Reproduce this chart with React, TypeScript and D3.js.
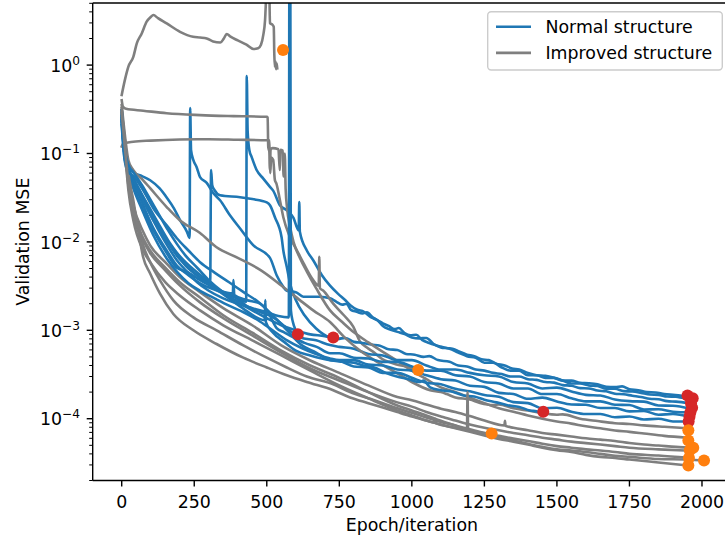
import React from "react";
import * as d3 from "d3";

type Pt = [number, number];

// ---- Normal structure runs (blue) : [epoch, validation MSE]
const normal1: Pt[] = [[0,0.29],[10,0.109],[25,0.072],[40,0.0615],[70,0.0555],[98,0.0498],[130,0.0405],[155,0.0318],[180,0.024],[201,0.0176],[225,0.013],[234,0.0111],[236,0.326],[239,0.109],[247,0.084],[258,0.0703],[270,0.054],[293,0.0465],[316,0.0355],[339,0.0296],[373,0.02],[408,0.0142],[453,0.0092],[511,0.0066],[534,0.0042],[557,0.0031],[569,0.0028],[600,0.0027],[626,0.0024],[683,0.0024],[718,0.0023],[740,0.0021],[760,0.00195],[775,0.002],[790,0.0017],[810,0.00162],[830,0.00155],[845,0.0016],[865,0.0014],[885,0.00128],[900,0.0012],[920,0.00112],[940,0.00103],[955,0.00106],[975,0.00093],[995,0.00088],[1015,0.00089],[1035,0.00078],[1060,0.00072],[1075,0.00069],[1095,0.00066],[1120,0.00063],[1140,0.00062],[1160,0.00058],[1190,0.00053],[1215,0.00051],[1240,0.00047],[1265,0.00046],[1290,0.00042],[1320,0.0004],[1345,0.00037],[1370,0.00036],[1400,0.00033],[1430,0.00031],[1460,0.000305],[1490,0.00029],[1520,0.00027],[1550,0.00027],[1580,0.000255],[1610,0.000252],[1640,0.000245],[1670,0.00023],[1700,0.000228],[1725,0.000232],[1750,0.000215],[1780,0.00021],[1810,0.0002],[1840,0.000198],[1870,0.00019],[1900,0.000186],[1925,0.000183],[1945,0.000178]];
const normal2: Pt[] = [[0,0.25],[10,0.096],[25,0.065],[40,0.052],[70,0.034],[100,0.023],[130,0.0154],[160,0.0104],[190,0.0075],[220,0.0054],[260,0.0042],[300,0.0034],[350,0.0027],[400,0.0023],[429,0.0021],[431,0.75],[434,0.18],[440,0.109],[448,0.091],[465,0.065],[488,0.052],[511,0.042],[522,0.038],[545,0.026],[569,0.0228],[592,0.0187],[610,0.0135],[612,0.0282],[614,0.013],[638,0.008],[660,0.0062],[690,0.0042],[718,0.0032],[745,0.0026],[770,0.0022],[790,0.0019],[810,0.00172],[835,0.00162],[860,0.0014],[880,0.00131],[900,0.00112],[925,0.00102],[950,0.00096],[975,0.00091],[1000,0.00083],[1025,0.00081],[1050,0.00082],[1075,0.0007],[1100,0.00064],[1130,0.00062],[1160,0.00056],[1190,0.00051],[1220,0.00049],[1250,0.00043],[1280,0.00043],[1310,0.00038],[1340,0.00035],[1370,0.00035],[1400,0.00031],[1430,0.00031],[1460,0.00029],[1490,0.00029],[1520,0.00027],[1550,0.00025],[1580,0.00025],[1610,0.000238],[1640,0.000234],[1670,0.000218],[1700,0.000218],[1730,0.000205],[1760,0.000203],[1790,0.000196],[1820,0.000188],[1850,0.000186],[1880,0.000178],[1910,0.000177],[1935,0.000172],[1960,0.00017]];
const normal3: Pt[] = [[0,0.27],[10,0.104],[25,0.065],[40,0.052],[70,0.034],[100,0.0217],[130,0.0143],[160,0.0098],[190,0.0075],[220,0.0059],[250,0.0048],[280,0.004],[305,0.0035],[308,0.065],[312,0.0438],[320,0.0384],[339,0.0337],[408,0.032],[450,0.0305],[500,0.028],[511,0.026],[528,0.019],[551,0.0113],[557,0.008],[569,0.0052],[580,0.0034],[600,0.0022],[630,0.00148],[670,0.00105],[718,0.00083],[745,0.0008],[770,0.00082],[800,0.00074],[830,0.00072],[860,0.00069],[890,0.00067],[920,0.00061],[950,0.0006],[980,0.00054],[1010,0.00053],[1040,0.0005],[1060,0.00051],[1090,0.00046],[1130,0.00044],[1160,0.0004],[1190,0.00039],[1220,0.00036],[1250,0.00035],[1280,0.00033],[1310,0.00032],[1340,0.0003],[1370,0.0003],[1400,0.00028],[1430,0.000275],[1460,0.00026],[1490,0.000256],[1520,0.00024],[1550,0.000236],[1580,0.000222],[1610,0.00022],[1640,0.000208],[1670,0.000204],[1700,0.000192],[1730,0.000189],[1760,0.000182],[1790,0.000176],[1820,0.000168],[1850,0.000166],[1880,0.000158],[1910,0.000156],[1955,0.00015]];
const normal4: Pt[] = [[0,0.25],[10,0.1],[25,0.065],[40,0.0498],[74,0.026],[109,0.0143],[155,0.008],[190,0.0054],[230,0.0042],[270,0.0034],[330,0.0028],[385,0.0024],[442,0.0018],[480,0.0016],[522,0.0014],[569,0.00106],[615,0.00083],[670,0.00077],[718,0.00068],[750,0.00065],[800,0.00062],[850,0.00054],[900,0.00052],[950,0.00046],[1000,0.00046],[1050,0.0004],[1100,0.00036],[1150,0.00036],[1200,0.00033],[1250,0.00031],[1300,0.0003],[1350,0.00026],[1400,0.00025],[1450,0.00022],[1500,0.000225],[1550,0.000203],[1600,0.000186],[1650,0.000183],[1700,0.000165],[1750,0.000158],[1800,0.000156],[1850,0.000141],[1900,0.00014],[1958,0.00013]];
const normal5: Pt[] = [[0,0.226],[10,0.088],[25,0.061],[40,0.0438],[74,0.0228],[109,0.0135],[155,0.0075],[190,0.0051],[224,0.0046],[270,0.0037],[304,0.0032],[340,0.0028],[383,0.0026],[385,0.0037],[388,0.0025],[430,0.0022],[477,0.002],[500,0.0017],[534,0.00106],[560,0.00095],[592,0.00083],[630,0.00072],[672,0.00065],[718,0.00055],[750,0.00055],[800,0.00049],[850,0.00048],[900,0.00044],[950,0.00044],[1000,0.00039],[1050,0.00035],[1100,0.00035],[1150,0.00031],[1200,0.0003],[1250,0.00026],[1300,0.00025],[1350,0.00022],[1400,0.00022],[1450,0.00019],[1500,0.00019],[1550,0.00017],[1600,0.000157],[1650,0.000157],[1700,0.000144],[1750,0.000143],[1800,0.000127],[1850,0.000128],[1900,0.00012],[1962,0.000118]];
const normal6: Pt[] = [[0,0.209],[10,0.084],[25,0.0568],[40,0.0405],[74,0.0217],[109,0.0119],[155,0.0065],[190,0.0046],[230,0.0034],[270,0.0028],[320,0.0023],[370,0.0019],[420,0.0016],[470,0.0013],[520,0.001],[570,0.00077],[620,0.00063],[670,0.00054],[718,0.00048],[750,0.00046],[800,0.00046],[850,0.00041],[900,0.0004],[950,0.00036],[1000,0.00035],[1050,0.00031],[1100,0.00028],[1150,0.00027],[1200,0.000236],[1250,0.000229],[1300,0.000196],[1350,0.00019],[1400,0.000168],[1450,0.000173],[1500,0.000157],[1550,0.000145],[1600,0.000144],[1650,0.000132],[1700,0.000132],[1750,0.000121],[1800,0.000122],[1850,0.000111],[1900,0.000113],[1955,0.000105]];
const normal7: Pt[] = [[0,0.285],[10,0.109],[25,0.065],[40,0.047],[74,0.0296],[109,0.0176],[155,0.0104],[190,0.007],[230,0.0051],[270,0.0039],[320,0.003],[370,0.0023],[420,0.00175],[470,0.00137],[493,0.0013],[495,0.0022],[497,0.00124],[520,0.00095],[560,0.00074],[600,0.00059],[650,0.00052],[718,0.00046],[750,0.00045],[800,0.00039],[850,0.00038],[900,0.00033],[950,0.00033],[1000,0.00029],[1050,0.000255],[1100,0.000245],[1150,0.000218],[1200,0.000204],[1250,0.000185],[1300,0.000177],[1350,0.000154],[1400,0.00015],[1450,0.000131],[1500,0.000133],[1550,0.00012],[1600,0.000113],[1650,0.000113],[1700,0.000104],[1750,0.000106],[1800,0.000098],[1850,0.0001],[1900,0.000093],[1953,0.000093]];
const normal8: Pt[] = [[0,0.238],[10,0.096],[25,0.061],[40,0.0498],[70,0.031],[100,0.02],[130,0.013],[160,0.0088],[190,0.0062],[220,0.0048],[260,0.0035],[300,0.0028],[350,0.0023],[400,0.002],[450,0.00178],[500,0.0016],[540,0.00145],[576,0.0014],[578,20],[581,20],[583,0.0017],[590,0.00124],[600,0.001],[607,0.0009]];
const normal9: Pt[] = [[0,0.309],[10,0.115],[25,0.072],[40,0.0615],[70,0.0438],[100,0.0296],[130,0.02],[160,0.0135],[190,0.0095],[220,0.007],[260,0.0051],[300,0.0037],[350,0.0027],[400,0.0021],[450,0.00168],[500,0.00137],[550,0.00114],[600,0.001],[650,0.0009],[700,0.00086],[729,0.00082]];
const normal10: Pt[] = [[0,0.265],[10,0.096],[25,0.061],[40,0.0555],[74,0.0384],[109,0.024],[155,0.0154],[190,0.011],[230,0.008],[270,0.0059],[320,0.0045],[370,0.0035],[420,0.0027],[470,0.0021],[520,0.00148],[570,0.001],[620,0.00068],[670,0.00056],[718,0.00046],[760,0.00044],[800,0.00043],[833,0.0004],[870,0.00038],[910,0.00033],[948,0.0003],[990,0.00028],[1025,0.00026],[1040,0.00027],[1063,0.000226],[1100,0.00021],[1140,0.000202],[1178,0.000183],[1215,0.000178],[1250,0.000164],[1292,0.000153],[1330,0.000142],[1370,0.000136],[1407,0.000124],[1430,0.000121],[1453,0.000115]];

// ---- Improved structure runs (grey)
const improved1: Pt[] = [[0,0.46],[11,0.68],[23,0.96],[40,1.24],[52,1.76],[69,2.28],[86,3.1],[100,3.5],[109,3.68],[125,3.4],[155,2.96],[201,2.38],[246,2.09],[270,2.05],[293,2.0],[315,1.85],[340,1.8],[352,2.0],[362,2.25],[375,2.1],[400,1.9],[430,1.7],[454,1.52],[470,1.55],[480,1.7],[488,2.2],[494,3.2],[498,6],[502,9],[508,9],[511,3.0],[520,2.85],[524,2.7],[526,1.3],[528,0.95],[530,1.1],[532,0.9],[534,1.05],[536,0.92]];
const improved2: Pt[] = [[0,0.40],[4,0.34],[15,0.32],[74,0.305],[155,0.285],[270,0.272],[385,0.265],[500,0.26],[503,0.255],[505,0.12],[510,0.1],[512,0.06],[515,0.09],[522,0.085],[528,0.05],[533,0.046],[545,0.03],[557,0.019],[580,0.0113],[603,0.0081],[626,0.0058],[660,0.0037],[679,0.0032],[681,0.0068],[683,0.003],[695,0.0028],[729,0.002],[764,0.0015],[798,0.0011],[821,0.00075],[845,0.00064],[867,0.00057],[900,0.00047],[920,0.00044],[947,0.00041],[980,0.00039],[1000,0.00037],[1022,0.00036]];
const improved3: Pt[] = [[0,0.12],[5,0.13],[40,0.136],[100,0.14],[200,0.144],[300,0.145],[400,0.143],[500,0.141],[509,0.14],[511,0.065],[513,0.11],[520,0.115],[540,0.112],[545,0.065],[547,0.11],[555,0.108],[558,0.055],[562,0.1],[565,0.04],[570,0.024],[580,0.015],[592,0.01],[615,0.0065],[640,0.0045],[670,0.003],[718,0.00168],[760,0.00124],[800,0.00095],[850,0.00073],[900,0.00057],[950,0.00045],[1000,0.00035],[1050,0.00028],[1100,0.000226],[1150,0.0002],[1200,0.000173],[1250,0.00015],[1300,0.000131],[1350,0.00012],[1400,0.000109],[1450,0.0001],[1500,0.000093],[1550,0.000088],[1600,0.000082],[1650,0.000078],[1700,0.0000735],[1750,0.000071],[1800,0.000068],[1870,0.000064],[1950,0.000061]];
const improved4: Pt[] = [[0,0.352],[11,0.161],[23,0.084],[40,0.0647],[74,0.0498],[98,0.0405],[155,0.0248],[200,0.0176],[270,0.0126],[327,0.0087],[400,0.0066],[480,0.00477],[550,0.00322],[615,0.00218],[660,0.00168],[718,0.00124],[770,0.00082],[821,0.00059],[880,0.00044],[947,0.00033],[1000,0.00026],[1063,0.00021],[1100,0.0002],[1120,0.00019],[1150,0.000174],[1200,0.000165],[1235,0.000151],[1280,0.000143],[1300,0.000145],[1350,0.000131],[1400,0.000124],[1453,0.000115],[1500,0.000111],[1520,0.000112],[1580,0.0001],[1640,0.000094],[1700,0.000089],[1750,0.000087],[1800,0.000084],[1870,0.000081],[1950,0.000078]];
const improved5: Pt[] = [[0,0.309],[11,0.124],[23,0.0498],[40,0.026],[74,0.013],[98,0.00915],[150,0.0059],[200,0.004],[270,0.0027],[350,0.00178],[450,0.00114],[550,0.000675],[650,0.000456],[750,0.00033],[850,0.000238],[950,0.000176],[1000,0.000162],[1050,0.000145],[1100,0.00013],[1150,0.000119],[1200,0.000107],[1250,0.0000954],[1319,0.000084],[1321,0.000095],[1323,0.000083],[1350,0.000079],[1400,0.000074],[1450,0.000069],[1500,0.000066],[1550,0.000063],[1600,0.00006],[1650,0.000058],[1700,0.000056],[1750,0.000053],[1800,0.000051],[1850,0.0000497],[1910,0.000048],[1970,0.000047]];
const improved6: Pt[] = [[0,0.25],[11,0.109],[23,0.0438],[40,0.02],[74,0.0104],[98,0.0075],[150,0.00477],[200,0.00322],[270,0.00207],[350,0.00137],[450,0.000875],[550,0.00056],[650,0.00037],[750,0.000271],[850,0.0002],[950,0.000153],[1000,0.000137],[1050,0.000119],[1100,0.000106],[1150,0.0000954],[1200,0.000086],[1250,0.000079],[1300,0.000074],[1350,0.000069],[1400,0.000065],[1450,0.000061],[1500,0.000058],[1550,0.000055],[1600,0.000053],[1650,0.000051],[1700,0.000049],[1750,0.000047],[1850,0.000045],[1955,0.0000436]];
const improved7: Pt[] = [[0,0.27],[11,0.124],[23,0.052],[40,0.026],[57,0.0154],[74,0.00915],[98,0.0059],[132,0.00367],[178,0.00218],[247,0.0014],[327,0.001],[419,0.000675],[500,0.00049],[569,0.00038],[638,0.0003],[729,0.000245],[787,0.0002],[850,0.00017],[900,0.00015],[950,0.000131],[1000,0.000117],[1050,0.000103],[1100,0.000092],[1150,0.0000838],[1200,0.000076],[1250,0.000069],[1300,0.000064],[1350,0.0000595],[1400,0.000056],[1450,0.000052],[1500,0.000049],[1550,0.000047],[1600,0.000045],[1650,0.0000436],[1700,0.000042],[1750,0.00004],[1850,0.0000383],[1953,0.000036]];
const improved8: Pt[] = [[0,0.309],[11,0.141],[23,0.06],[40,0.0296],[57,0.0135],[74,0.0067],[98,0.0044],[132,0.0026],[178,0.00153],[247,0.001],[327,0.0007],[419,0.00049],[500,0.00038],[569,0.00031],[638,0.00026],[729,0.00021],[787,0.000174],[850,0.00015],[900,0.000134],[950,0.000119],[1000,0.000106],[1050,0.0000954],[1100,0.000086],[1150,0.000078],[1200,0.000071],[1250,0.0000645],[1300,0.000059],[1350,0.000055],[1400,0.000051],[1450,0.000047],[1500,0.000044],[1550,0.000042],[1600,0.000039],[1650,0.000037],[1700,0.000036],[1750,0.0000345],[1850,0.000032],[1953,0.0000295]];
const improved9: Pt[] = [[0,0.326],[11,0.109],[23,0.0384],[40,0.0176],[74,0.008],[98,0.0059],[150,0.0035],[200,0.00248],[270,0.00168],[350,0.00114],[450,0.00077],[550,0.00052],[650,0.00035],[750,0.000238],[850,0.00017],[950,0.000124],[1000,0.000109],[1050,0.0000954],[1078,0.00009],[1080,0.0001],[1082,0.000089],[1150,0.000079],[1200,0.000073],[1250,0.000068],[1300,0.000062],[1350,0.0000566],[1400,0.000052],[1450,0.000048],[1500,0.000045],[1550,0.0000436],[1600,0.000042],[1650,0.00004],[1700,0.000038],[1750,0.000037],[1850,0.000035],[1950,0.0000345],[2007,0.0000336]];
const improved10: Pt[] = [[0,0.29],[11,0.115],[23,0.047],[40,0.0228],[74,0.011],[98,0.008],[150,0.0051],[200,0.0035],[270,0.00235],[350,0.00148],[450,0.00094],[550,0.00059],[650,0.0004],[750,0.00029],[850,0.0002],[950,0.000141],[1000,0.000124],[1050,0.000109],[1100,0.000095],[1150,0.0000838],[1190,0.0000755],[1192,0.0002],[1194,0.0000735],[1250,0.000069],[1275,0.000068]];

const normalRuns = [normal1, normal2, normal3, normal4, normal5, normal6, normal7, normal8, normal9, normal10];
const improvedRuns = [improved1, improved2, improved3, improved4, improved5, improved6, improved7, improved8, improved9, improved10];

// markers
const normalMarkers: Pt[] = [[1950,0.000183],[1968,0.00017],[1962,0.00015],[1966,0.000133],[1960,0.000118],[1957,0.000105],[1954,0.000093],[607,0.0009],[729,0.00083],[1453,0.00012]];
const improvedMarkers: Pt[] = [[556,1.48],[1022,0.000356],[1275,0.000068],[1953,0.000074],[1953,0.0000566],[1970,0.000047],[1958,0.000044],[1955,0.000036],[2007,0.0000336],[1953,0.0000295]];

const xTicks = [0, 250, 500, 750, 1000, 1250, 1500, 1750, 2000];
const yTickExps = [-4, -3, -2, -1, 0];
const legendLabels = ["Normal structure", "Improved structure"];

const BLUE = "#1f77b4";
const GREY = "#7f7f7f";
const RED = "#d62728";
const ORANGE = "#ff7f0e";
const FONT = "DejaVu Sans";
const FS = 17.36;

export default function App() {
  const W = 725, H = 538;
  const left = 92.7, right = 731, top = 3, bottom = 480.5;
  const x = d3.scaleLinear().domain([-100, 2100]).range([left, right]);
  const y = d3.scaleLog().domain([2e-5, 5.04]).range([bottom, top]);
  const line = d3.line<Pt>().x(d => x(d[0])).y(d => y(d[1])).curve(d3.curveMonotoneX);

  const minor: number[] = [];
  for (let e = -5; e <= 0; e++) {
    for (let m = 2; m <= 9; m++) {
      const v = m * Math.pow(10, e);
      if (v >= 2e-5 - 1e-12 && v <= 5.04) minor.push(v);
    }
  }

  const order: { pts: Pt[]; color: string }[] = [];
  for (let i = 0; i < 10; i++) {
    order.push({ pts: normalRuns[i], color: BLUE });
    order.push({ pts: improvedRuns[i], color: GREY });
  }

  return (
    <div style={{ position: "fixed", left: 0, top: 0, width: W, height: H, background: "#fff" }}>
      <svg width={W} height={H} style={{ display: "block" }} fontFamily={FONT}>
        <defs>
          <clipPath id="plotclip">
            <rect x={left} y={top} width={right - left} height={bottom - top} />
          </clipPath>
        </defs>
        <rect x={0} y={0} width={W} height={H} fill="#fff" />
        <g clipPath="url(#plotclip)">
          {order.map((r, i) => (
            <path key={i} d={line(r.pts) || ""} fill="none" stroke={r.color} strokeWidth={2.6} strokeLinejoin="round" strokeLinecap="square" />
          ))}
          {normalMarkers.map((d, i) => (
            <circle key={"r" + i} cx={x(d[0])} cy={y(d[1])} r={6} fill={RED} />
          ))}
          {improvedMarkers.map((d, i) => (
            <circle key={"o" + i} cx={x(d[0])} cy={y(d[1])} r={6} fill={ORANGE} />
          ))}
        </g>
        {/* spines */}
        <line x1={left} x2={left} y1={top} y2={bottom} stroke="#000" strokeWidth={1.4} />
        <line x1={left} x2={right} y1={bottom} y2={bottom} stroke="#000" strokeWidth={1.4} />
        <line x1={left} x2={right} y1={top} y2={top} stroke="#000" strokeWidth={1.4} />
        <line x1={right} x2={right} y1={top} y2={bottom} stroke="#000" strokeWidth={1.4} />
        {/* x ticks */}
        {xTicks.map(t => (
          <g key={t}>
            <line x1={x(t)} x2={x(t)} y1={bottom} y2={bottom + 6} stroke="#000" strokeWidth={1.4} />
            <text x={x(t)} y={bottom + 27} textAnchor="middle" fontSize={FS} fill="#000">{t}</text>
          </g>
        ))}
        {/* y minor ticks */}
        {minor.map((v, i) => (
          <line key={i} x1={left - 3.5} x2={left} y1={y(v)} y2={y(v)} stroke="#000" strokeWidth={1.0} />
        ))}
        {/* y major ticks */}
        {yTickExps.map(e => {
          const yy = y(Math.pow(10, e));
          return (
            <g key={e}>
              <line x1={left - 6} x2={left} y1={yy} y2={yy} stroke="#000" strokeWidth={1.4} />
              <text x={80} y={yy + 6.6} textAnchor="end" fontSize={FS} fill="#000">
                10
                <tspan dy={-7} fontSize={12.2}>{e < 0 ? "\u2212" + Math.abs(e) : String(e)}</tspan>
              </text>
            </g>
          );
        })}
        {/* axis labels */}
        <text x={(left + right) / 2} y={531} textAnchor="middle" fontSize={FS} fill="#000">Epoch/iteration</text>
        <text transform={`translate(29,${(top + bottom) / 2}) rotate(-90)`} textAnchor="middle" fontSize={FS} fill="#000">Validation MSE</text>
        {/* legend */}
        <g>
          <rect x={487.7} y={11.7} width={234.6} height={58.3} rx={3.5} fill="#fff" fillOpacity={0.8} stroke="#cccccc" strokeWidth={1.4} />
          {legendLabels.map((lab, i) => (
            <g key={lab}>
              <line x1={496} x2={531} y1={26.7 + i * 26.2} y2={26.7 + i * 26.2} stroke={i === 0 ? BLUE : GREY} strokeWidth={2.6} />
              <text x={545.5} y={33 + i * 26.2} fontSize={FS} fill="#000">{lab}</text>
            </g>
          ))}
        </g>
      </svg>
    </div>
  );
}
